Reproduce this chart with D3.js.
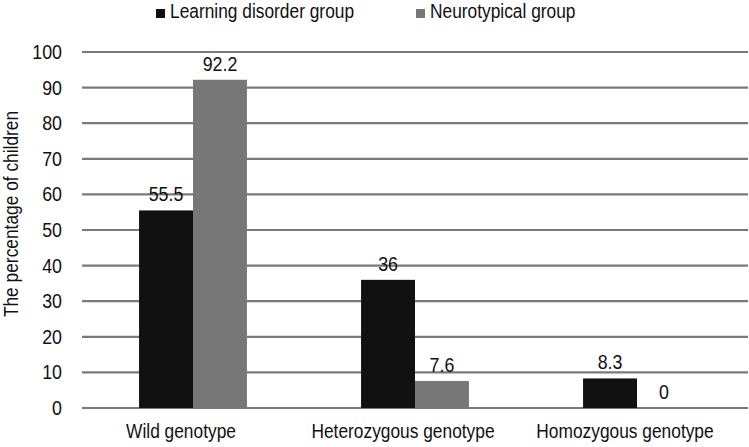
<!DOCTYPE html>
<html>
<head>
<meta charset="utf-8">
<script src="https://cdn.jsdelivr.net/npm/d3@7"></script>
<style>
  html, body { margin: 0; padding: 0; background: #fff; }
  svg { display: block; font-family: 'Liberation Sans Narrow', 'Liberation Sans', Arial, sans-serif; }
</style>
</head>
<body>
<div id="chart"></div>
<script>
'use strict'

// categories and series
const categories = ['Wild genotype', 'Heterozygous genotype', 'Homozygous genotype']
const seriesNames = ['Learning disorder group', 'Neurotypical group']
const learningDisorder = [55.5, 36, 8.3]
const neurotypical = [92.2, 7.6, 0]
const yTicks = [0, 10, 20, 30, 40, 50, 60, 70, 80, 90, 100]
const seriesColors = ['#111111', '#777777']

const width = 749
const height = 447
const margin = { top: 52, right: 1, bottom: 39, left: 82 }
// squeeze glyphs horizontally, the original uses a narrow face
const narrow = 0.89

const svg = d3.select('#chart')
  .append('svg')
  .attr('width', width)
  .attr('height', height)

function place (x, y) {
  return 'translate(' + x + ',' + y + ') scale(' + narrow + ',1)'
}

const x0 = d3.scaleBand()
  .domain(categories)
  .range([margin.left, width - margin.right])
  .paddingInner(0.514)
  .paddingOuter(0.257)

const x1 = d3.scaleBand()
  .domain(seriesNames)
  .range([0, x0.bandwidth()])

const y = d3.scaleLinear()
  .domain([0, 100])
  .range([height - margin.bottom, margin.top])

// gridlines
svg.append('g')
  .selectAll('line')
  .data(yTicks)
  .join('line')
  .attr('x1', margin.left)
  .attr('x2', width - margin.right)
  .attr('y1', d => y(d))
  .attr('y2', d => y(d))
  .attr('stroke', '#7a7a7a')
  .attr('stroke-width', 2.2)

// y tick labels
svg.append('g')
  .selectAll('text')
  .data(yTicks)
  .join('text')
  .attr('transform', d => place(62, y(d) + 7))
  .attr('text-anchor', 'end')
  .style('font-size', '20px')
  .attr('fill', '#111')
  .text(d => d)

// y axis title
svg.append('text')
  .attr('transform', 'translate(18,214) rotate(-90) scale(' + narrow + ',1)')
  .attr('text-anchor', 'middle')
  .style('font-size', '19.5px')
  .attr('fill', '#111')
  .text('The percentage of children')

const rows = categories.map((c, i) => ({
  category: c,
  values: [
    { name: seriesNames[0], value: learningDisorder[i], color: seriesColors[0] },
    { name: seriesNames[1], value: neurotypical[i], color: seriesColors[1] }
  ]
}))

const groups = svg.append('g')
  .selectAll('g')
  .data(rows)
  .join('g')
  .attr('transform', d => 'translate(' + x0(d.category) + ',0)')

groups.selectAll('rect')
  .data(d => d.values)
  .join('rect')
  .attr('x', d => x1(d.name))
  .attr('y', d => y(d.value))
  .attr('width', x1.bandwidth())
  .attr('height', d => y(0) - y(d.value))
  .attr('fill', d => d.color)

// value labels
groups.selectAll('text')
  .data(d => d.values)
  .join('text')
  .attr('transform', d => place(x1(d.name) + x1.bandwidth() / 2, y(d.value) - 9))
  .attr('text-anchor', 'middle')
  .style('font-size', '20px')
  .attr('fill', '#111')
  .text(d => d.value)

// category labels
svg.append('g')
  .selectAll('text')
  .data(categories)
  .join('text')
  .attr('transform', d => place(x0(d) + x0.bandwidth() / 2 - 12, 438))
  .attr('text-anchor', 'middle')
  .style('font-size', '19.5px')
  .attr('fill', '#111')
  .text(d => d)

// legend
const legendX = [156, 416]
const legend = svg.append('g')
  .selectAll('g')
  .data(seriesNames)
  .join('g')
  .attr('transform', (d, i) => 'translate(' + legendX[i] + ',0)')

legend.append('rect')
  .attr('x', 0)
  .attr('y', 9)
  .attr('width', 9)
  .attr('height', 9)
  .attr('fill', (d, i) => seriesColors[i])

legend.append('text')
  .attr('transform', place(14, 17.5))
  .style('font-size', '19.5px')
  .attr('fill', '#111')
  .text(d => d)
</script>
</body>
</html>
